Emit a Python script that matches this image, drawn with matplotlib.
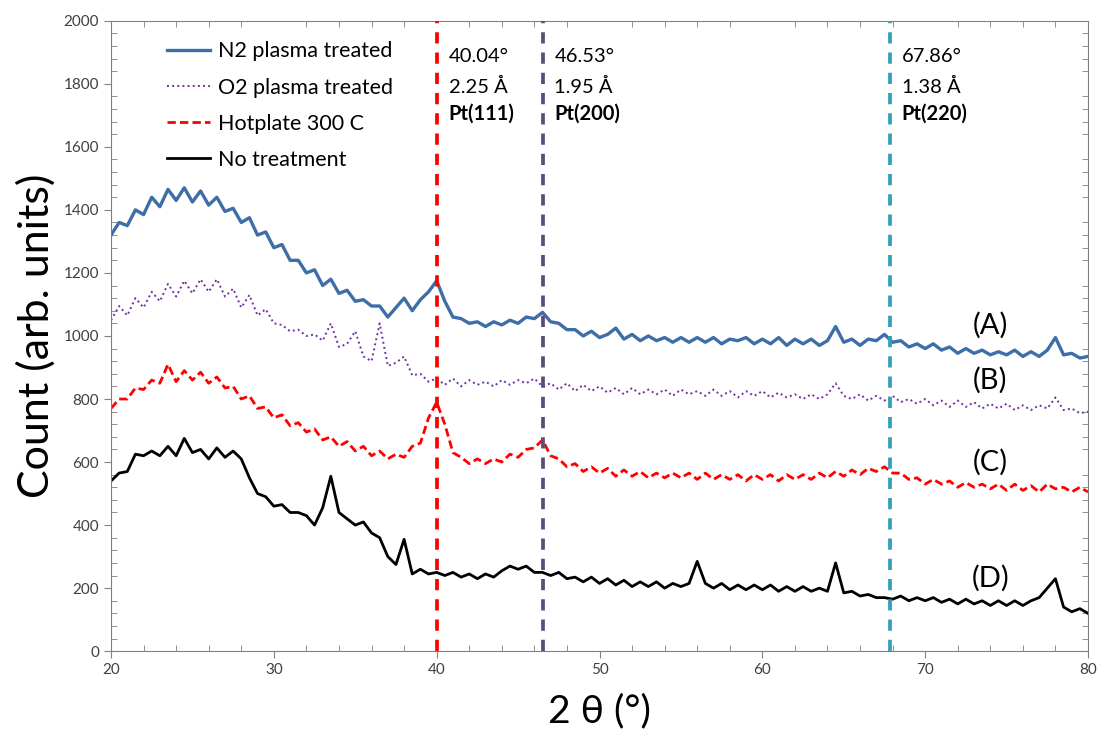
import numpy as np
import matplotlib
matplotlib.use("Agg")
import matplotlib.pyplot as plt
from matplotlib.ticker import MultipleLocator

plt.rcParams['font.family'] = ['Lato', 'DejaVu Sans']

# 2-theta grid, 0.5 deg steps
two_theta = np.arange(20, 80.01, 0.5)

# counts (one row = 5 degrees)
n2_plasma = [1320, 1360, 1350, 1400, 1385, 1440, 1410, 1465, 1430, 1470,
             1425, 1460, 1415, 1440, 1395, 1405, 1360, 1375, 1320, 1330,
             1280, 1290, 1240, 1240, 1200, 1210, 1160, 1180, 1135, 1145,
             1110, 1115, 1095, 1095, 1060, 1090, 1120, 1080, 1115, 1140,
             1175, 1110, 1060, 1055, 1040, 1045, 1030, 1045, 1035, 1050,
             1040, 1060, 1055, 1075, 1045, 1040, 1020, 1020, 1000, 1015,
             995, 1005, 1025, 990, 1005, 985, 1000, 985, 995, 980,
             995, 980, 995, 980, 995, 975, 990, 985, 995, 975,
             990, 975, 995, 970, 990, 975, 990, 970, 985, 1030,
             980, 990, 970, 990, 985, 1005, 980, 985, 965, 975,
             960, 975, 955, 965, 945, 960, 945, 955, 940, 950,
             940, 955, 935, 950, 935, 955, 995, 940, 945, 930,
             935]
o2_plasma = [1050, 1095, 1065, 1120, 1090, 1140, 1110, 1165, 1125, 1175,
             1135, 1180, 1140, 1180, 1125, 1150, 1090, 1130, 1065, 1085,
             1040, 1035, 1015, 1020, 1000, 1005, 985, 1040, 965, 975,
             1015, 935, 920, 1040, 905, 915, 935, 875, 880, 855,
             865, 845, 865, 840, 860, 845, 855, 840, 860, 845,
             860, 850, 865, 840, 850, 830, 850, 825, 845, 825,
             840, 820, 835, 815, 835, 815, 830, 815, 830, 810,
             830, 815, 825, 810, 830, 810, 825, 805, 825, 810,
             825, 805, 820, 805, 815, 800, 815, 800, 815, 850,
             810, 800, 815, 795, 810, 795, 810, 790, 800, 785,
             800, 780, 795, 775, 795, 775, 790, 770, 785, 770,
             785, 765, 780, 765, 780, 770, 805, 765, 770, 755,
             760]
hotplate = [770, 800, 800, 835, 830, 860, 850, 910, 855, 890,
            860, 885, 850, 870, 835, 840, 800, 810, 770, 775,
            740, 750, 715, 725, 695, 705, 670, 680, 650, 665,
            635, 650, 620, 635, 610, 625, 615, 650, 660, 740,
            790, 720, 630, 615, 595, 610, 595, 610, 600, 625,
            615, 640, 645, 670, 620, 610, 585, 595, 570, 585,
            565, 580, 555, 575, 555, 570, 550, 565, 550, 565,
            550, 565, 545, 565, 545, 560, 545, 560, 540, 560,
            545, 560, 540, 560, 545, 560, 545, 565, 550, 570,
            555, 575, 560, 580, 570, 585, 565, 565, 545, 550,
            530, 545, 530, 540, 520, 535, 520, 530, 515, 530,
            510, 530, 510, 525, 505, 530, 515, 520, 505, 520,
            505]
no_treatment = [540, 565, 570, 625, 620, 635, 620, 650, 620, 675,
                630, 640, 610, 645, 615, 635, 610, 550, 500, 490,
                460, 465, 440, 440, 430, 400, 455, 555, 440, 420,
                400, 410, 375, 360, 300, 275, 355, 245, 260, 245,
                250, 240, 250, 235, 245, 230, 245, 235, 255, 270,
                260, 270, 250, 250, 240, 250, 230, 235, 220, 235,
                215, 230, 210, 225, 205, 220, 205, 220, 200, 215,
                205, 215, 285, 215, 200, 215, 195, 210, 195, 210,
                195, 210, 190, 205, 190, 205, 190, 200, 190, 280,
                185, 190, 175, 180, 170, 170, 165, 175, 160, 170,
                160, 170, 155, 165, 150, 165, 150, 160, 145, 160,
                145, 160, 145, 160, 170, 200, 230, 140, 125, 135,
                120]

peak_pos = [40.04, 46.53, 67.86]
peak_text = [["40.04°", "2.25 Å", "Pt(111)"],
             ["46.53°", "1.95 Å", "Pt(200)"],
             ["67.86°", "1.38 Å", "Pt(220)"]]
peak_colors = ["#ff0000", "#604a7b", "#31a0b8"]

curve_tags = ["(A)", "(B)", "(C)", "(D)"]
tag_y = [1035, 860, 600, 232]

fig = plt.figure(figsize=(10.99, 7.40), dpi=100)
ax = fig.add_axes([0.101, 0.120, 0.889, 0.852])

ax.plot(two_theta, n2_plasma, color="#3d6ea8", lw=2.4, label="N2 plasma treated")
ax.plot(two_theta, o2_plasma, color="#7030a0", lw=1.4, ls=":", label="O2 plasma treated")
ax.plot(two_theta, hotplate, color="#ff0000", lw=2.0, ls=(0, (3, 1.5)), label="Hotplate 300 C")
ax.plot(two_theta, no_treatment, color="black", lw=2.0, label="No treatment")

for pos, txt, col in zip(peak_pos, peak_text, peak_colors):
    ax.axvline(pos, color=col, lw=2.7, ls=(0, (3.0, 2.4)), zorder=3)
    ax.text(pos + 0.7, 1885, txt[0], fontsize=14.5, va="center")
    ax.text(pos + 0.7, 1790, txt[1], fontsize=14.5, va="center")
    ax.text(pos + 0.7, 1705, txt[2], fontsize=14.5, va="center", fontweight="bold")

for tag, y in zip(curve_tags, tag_y):
    ax.text(74.0, y, tag, fontsize=21, ha="center", va="center")

ax.set_xlim(20, 80)
ax.set_ylim(0, 2000)
ax.xaxis.set_major_locator(MultipleLocator(10))
ax.xaxis.set_minor_locator(MultipleLocator(2))
ax.yaxis.set_major_locator(MultipleLocator(200))
ax.yaxis.set_minor_locator(MultipleLocator(40))
ax.tick_params(which="major", direction="out", length=5, color="#808080",
               labelsize=11, labelcolor="#404040")
ax.tick_params(which="minor", direction="in", length=4, color="#808080",
               top=True, right=True)
for sp in ax.spines.values():
    sp.set_color("#808080")

ax.set_xlabel("2 θ (°)", fontsize=28, labelpad=12)
ax.set_ylabel("Count (arb. units)", fontsize=31, labelpad=6)

ax.legend(loc="upper left", bbox_to_anchor=(0.037, 0.998), frameon=False,
          fontsize=15.5, handlelength=2.0, handletextpad=0.4, labelspacing=0.75)

fig.savefig("out.png", dpi=100)
